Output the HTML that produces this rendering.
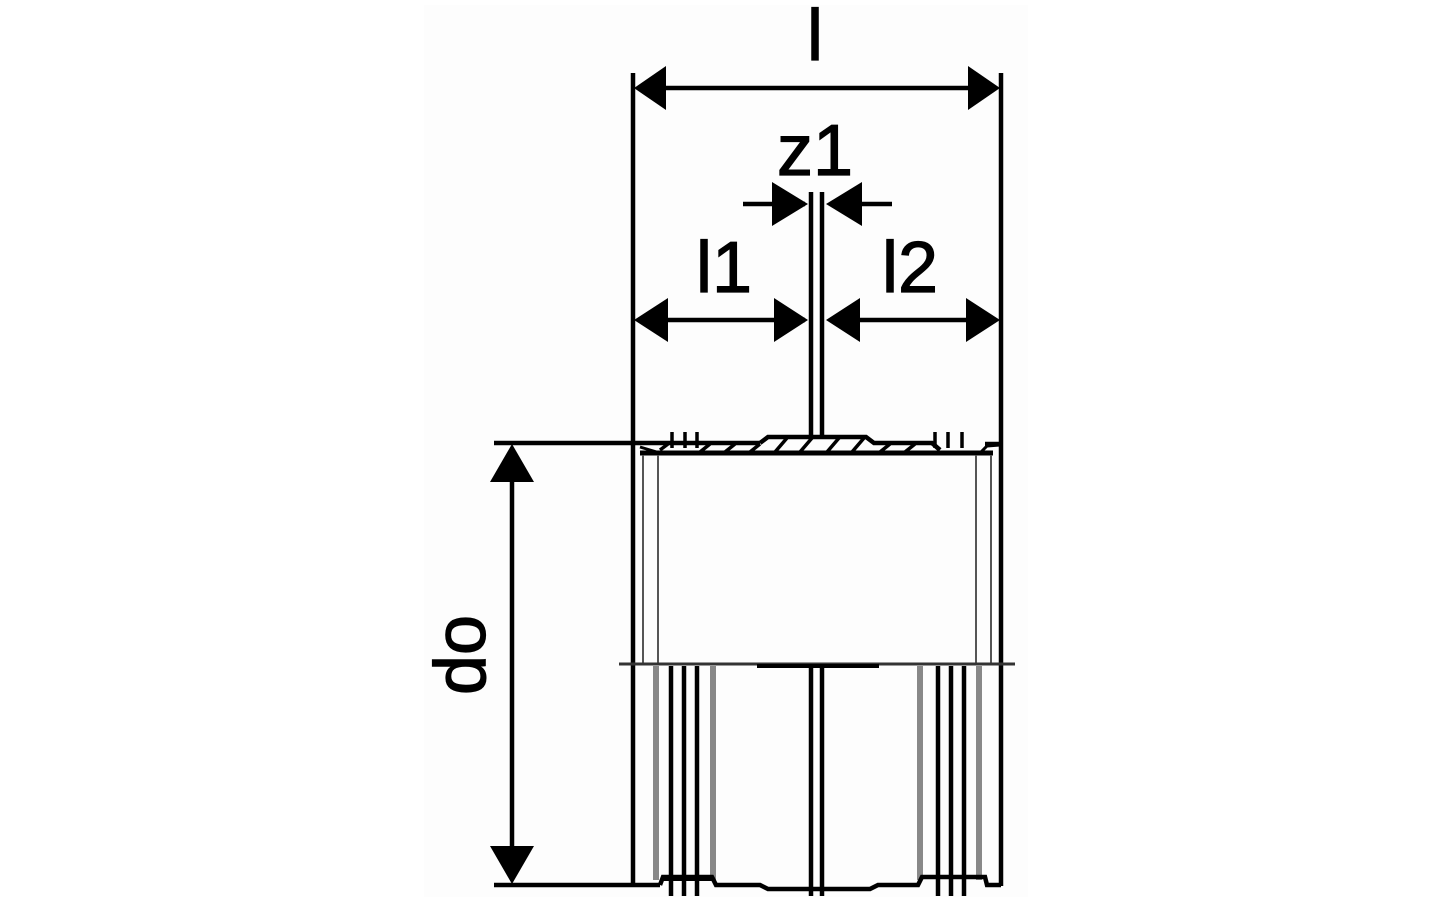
<!DOCTYPE html>
<html><head><meta charset="utf-8"><style>
html,body{margin:0;padding:0;background:#fff;}
svg{display:block}
text{font-family:"Liberation Sans",Arial,sans-serif;fill:#000}
</style></head><body>
<svg width="1442" height="901" viewBox="0 0 1442 901" xmlns="http://www.w3.org/2000/svg">
<rect x="0" y="0" width="1442" height="901" fill="#fff"/>
<rect x="424" y="5" width="604" height="892" fill="#fdfdfd"/>
<g stroke="#000" fill="none" stroke-width="4.5">
  <line x1="633" y1="73" x2="633" y2="886"/>
  <line x1="1001" y1="73" x2="1001" y2="886"/>
  <line x1="640" y1="88" x2="995" y2="88"/>
  <line x1="640" y1="320" x2="805" y2="320"/>
  <line x1="830" y1="320" x2="995" y2="320"/>
  <line x1="743" y1="204" x2="805" y2="204"/>
  <line x1="830" y1="204" x2="892" y2="204"/>
  <line x1="811" y1="192" x2="811" y2="438"/>
  <line x1="822" y1="192" x2="822" y2="438"/>
  <line x1="811" y1="666" x2="811" y2="896"/>
  <line x1="822" y1="666" x2="822" y2="896"/>
  <line x1="494" y1="443" x2="760" y2="443"/>
  <line x1="494" y1="885" x2="660" y2="885"/>
  <line x1="512" y1="470" x2="512" y2="858"/>
  <path d="M760 443 L768 437 L866 437 L874 443 L932 443 L940 450"/>
  <path d="M985 444 L1001 444"/>
  <path d="M640 453 L993 453" stroke-width="5"/>
  <path d="M640 447 L660 453" stroke-width="3"/>
  <path d="M980 453 L987 446 L1000 445" stroke-width="3"/>
  <path d="M672 432 V448 M685 432 V448 M697 432 V448 M935 432 V448 M948 432 V448 M962 432 V448" stroke-width="3.5"/>
</g>
<g stroke="#000" stroke-width="3.5">
  <line x1="700" y1="452" x2="710" y2="444"/><line x1="725" y1="452" x2="735" y2="444"/>
  <line x1="750" y1="452" x2="760" y2="444"/><line x1="775" y1="452" x2="787" y2="438"/>
  <line x1="800" y1="452" x2="812" y2="438"/><line x1="827" y1="452" x2="839" y2="438"/>
  <line x1="852" y1="452" x2="864" y2="438"/><line x1="880" y1="452" x2="890" y2="444"/>
  <line x1="905" y1="452" x2="915" y2="444"/><line x1="660" y1="450" x2="668" y2="444"/>
</g>
<g stroke="#555" stroke-width="2">
  <line x1="643" y1="455" x2="643" y2="664"/>
  <line x1="658" y1="455" x2="658" y2="664"/>
  <line x1="976" y1="455" x2="976" y2="664"/>
  <line x1="991" y1="455" x2="991" y2="664"/>
</g>
<line x1="619" y1="664" x2="1015" y2="664" stroke="#333" stroke-width="3"/>
<rect x="757" y="664" width="122" height="4" fill="#000"/>
<g stroke="#888" stroke-width="6">
  <line x1="656" y1="666" x2="656" y2="880"/>
  <line x1="713" y1="666" x2="713" y2="880"/>
  <line x1="920" y1="666" x2="920" y2="880"/>
  <line x1="979" y1="666" x2="979" y2="880"/>
</g>
<g stroke="#000" stroke-width="4.5" fill="none">
  <line x1="671" y1="666" x2="671" y2="896"/>
  <line x1="684" y1="666" x2="684" y2="896"/>
  <line x1="697" y1="666" x2="697" y2="896"/>
  <line x1="938" y1="666" x2="938" y2="896"/>
  <line x1="951" y1="666" x2="951" y2="896"/>
  <line x1="964" y1="666" x2="964" y2="896"/>
  <path d="M660 885 L663 877 L712 877 L716 885 L760 885 L768 889 L870 889 L878 885 L918 885 L922 877 L985 877 L987 885 L1001 885"/>
  <line x1="663" y1="880" x2="712" y2="880" stroke-width="2"/>
</g>
<g fill="#000">
  <polygon points="634,88 666,66 666,110"/>
  <polygon points="1000,88 968,66 968,110"/>
  <polygon points="634,320 668,298 668,342"/>
  <polygon points="808,320 774,298 774,342"/>
  <polygon points="826,320 860,298 860,342"/>
  <polygon points="1000,320 966,298 966,342"/>
  <polygon points="808,204 772,182 772,226"/>
  <polygon points="826,204 862,182 862,226"/>
  <polygon points="512,444 490,482 534,482"/>
  <polygon points="512,884 490,846 534,846"/>
</g>
<g stroke="#000" stroke-width="1.2">
<text x="815" y="60" font-size="72" text-anchor="middle">l</text>
<text x="815" y="175" font-size="72" text-anchor="middle">z1</text>
<text x="724" y="292" font-size="72" text-anchor="middle">l1</text>
<text x="910" y="292" font-size="72" text-anchor="middle">l2</text>
<text transform="translate(485,655) rotate(-90)" font-size="72" text-anchor="middle">do</text>
</g>
</svg>
</body></html>
